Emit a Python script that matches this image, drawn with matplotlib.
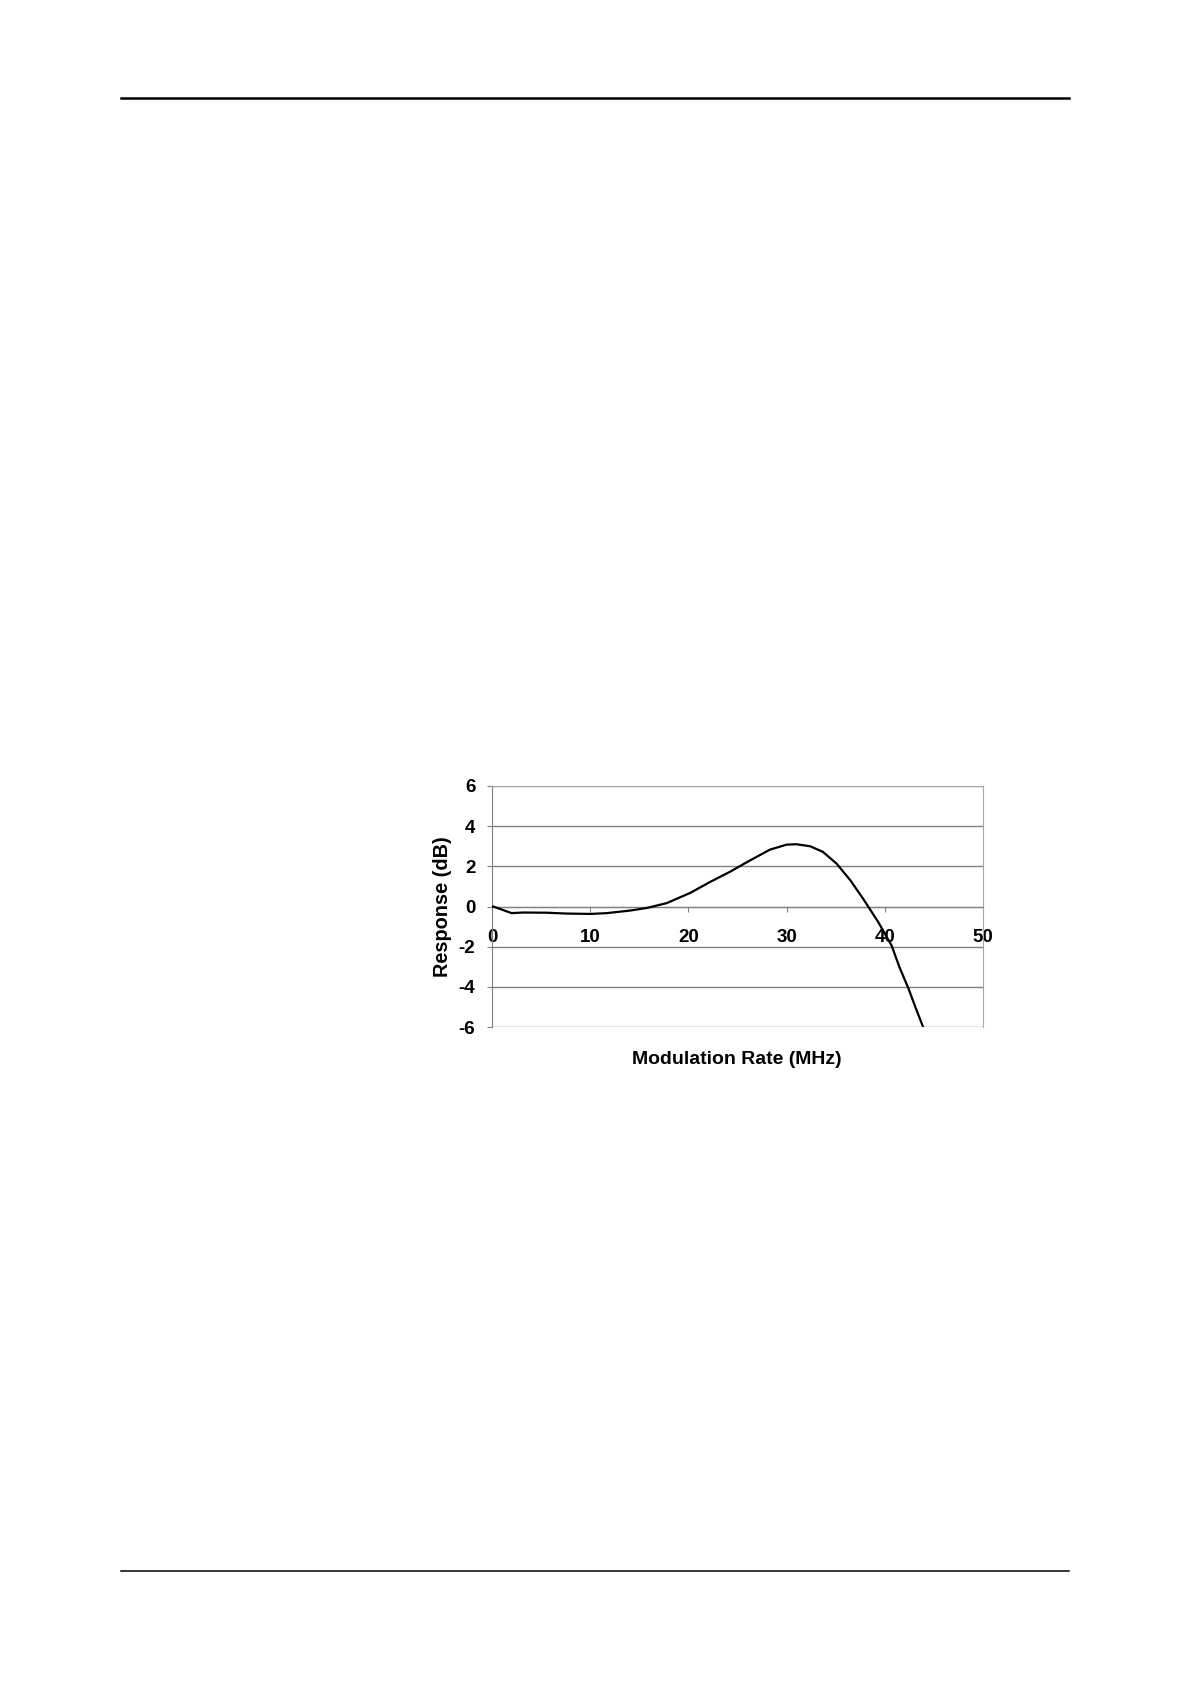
import matplotlib
matplotlib.use('Agg')
import matplotlib.pyplot as plt
import numpy as np

plt.rcParams['font.family'] = ['Liberation Sans', 'DejaVu Sans']
plt.rcParams['axes.unicode_minus'] = False

# curve
rate = [0, 0.13, 2.0, 3.2, 5.6, 7.5, 10.0, 11.7, 14.1, 15.8, 17.8, 20.2, 22.2, 24.2,
        26.3, 28.3, 30.0, 31.0, 32.4, 33.7, 35.1, 36.5, 37.8, 39.3, 40.7, 41.5,
        42.4, 43.2, 43.9]
response = [0, 0, -0.33, -0.3, -0.31, -0.35, -0.37, -0.33, -0.2, -0.07, 0.17, 0.68, 1.22, 1.72,
            2.3, 2.83, 3.08, 3.1, 3.0, 2.72, 2.13, 1.3, 0.38, -0.75, -1.95, -3.03,
            -4.07, -5.12, -6.0]
xticks = [0, 10, 20, 30, 40, 50]
yticks = [-6, -4, -2, 0, 2, 4, 6]

fig = plt.figure(figsize=(11.9, 16.84), dpi=100)

# page rules at top and bottom
fig.add_artist(plt.Line2D([121/1190, 1069/1190], [1-97.7/1684]*2, color='black', lw=1.8))
fig.add_artist(plt.Line2D([121/1190, 1069/1190], [1-1571/1684]*2, color='black', lw=1.1))

ax = fig.add_axes([492/1190, 1-1027/1684, 491/1190, 241/1684])
ax.set_xlim(0, 50)
ax.set_ylim(-6, 6)

for y in yticks:
    ax.axhline(y, color='#808080', lw=1.0, zorder=1)

ax.plot(rate, response, color='black', lw=1.6, zorder=3)

ax.spines['bottom'].set_position(('data', 0))
ax.spines['bottom'].set_color('#808080')
ax.spines['left'].set_color('#808080')
ax.spines['right'].set_color('#a8a8a8')
ax.spines['top'].set_color('#a8a8a8')

ax.set_xticks(xticks)
ax.set_yticks(yticks)
ax.tick_params(axis='x', direction='out', length=3.5, width=0.8, color='#808080', pad=13,
               labelsize=13.5)
ax.tick_params(axis='y', direction='out', length=3.5, width=0.8, color='#808080', pad=8.5,
               labelsize=13.5)
for lab in ax.get_xticklabels() + ax.get_yticklabels():
    lab.set_fontweight('bold')

fig.text(443/1190, 1-907/1684, 'Response (dB)', rotation=90, ha='center', va='center',
         fontsize=14.3, fontweight='bold')
fig.text(737/1190, 1-1059/1684, 'Modulation Rate (MHz)', ha='center', va='center',
         fontsize=14, fontweight='bold')

fig.savefig('out.png', dpi=100)
